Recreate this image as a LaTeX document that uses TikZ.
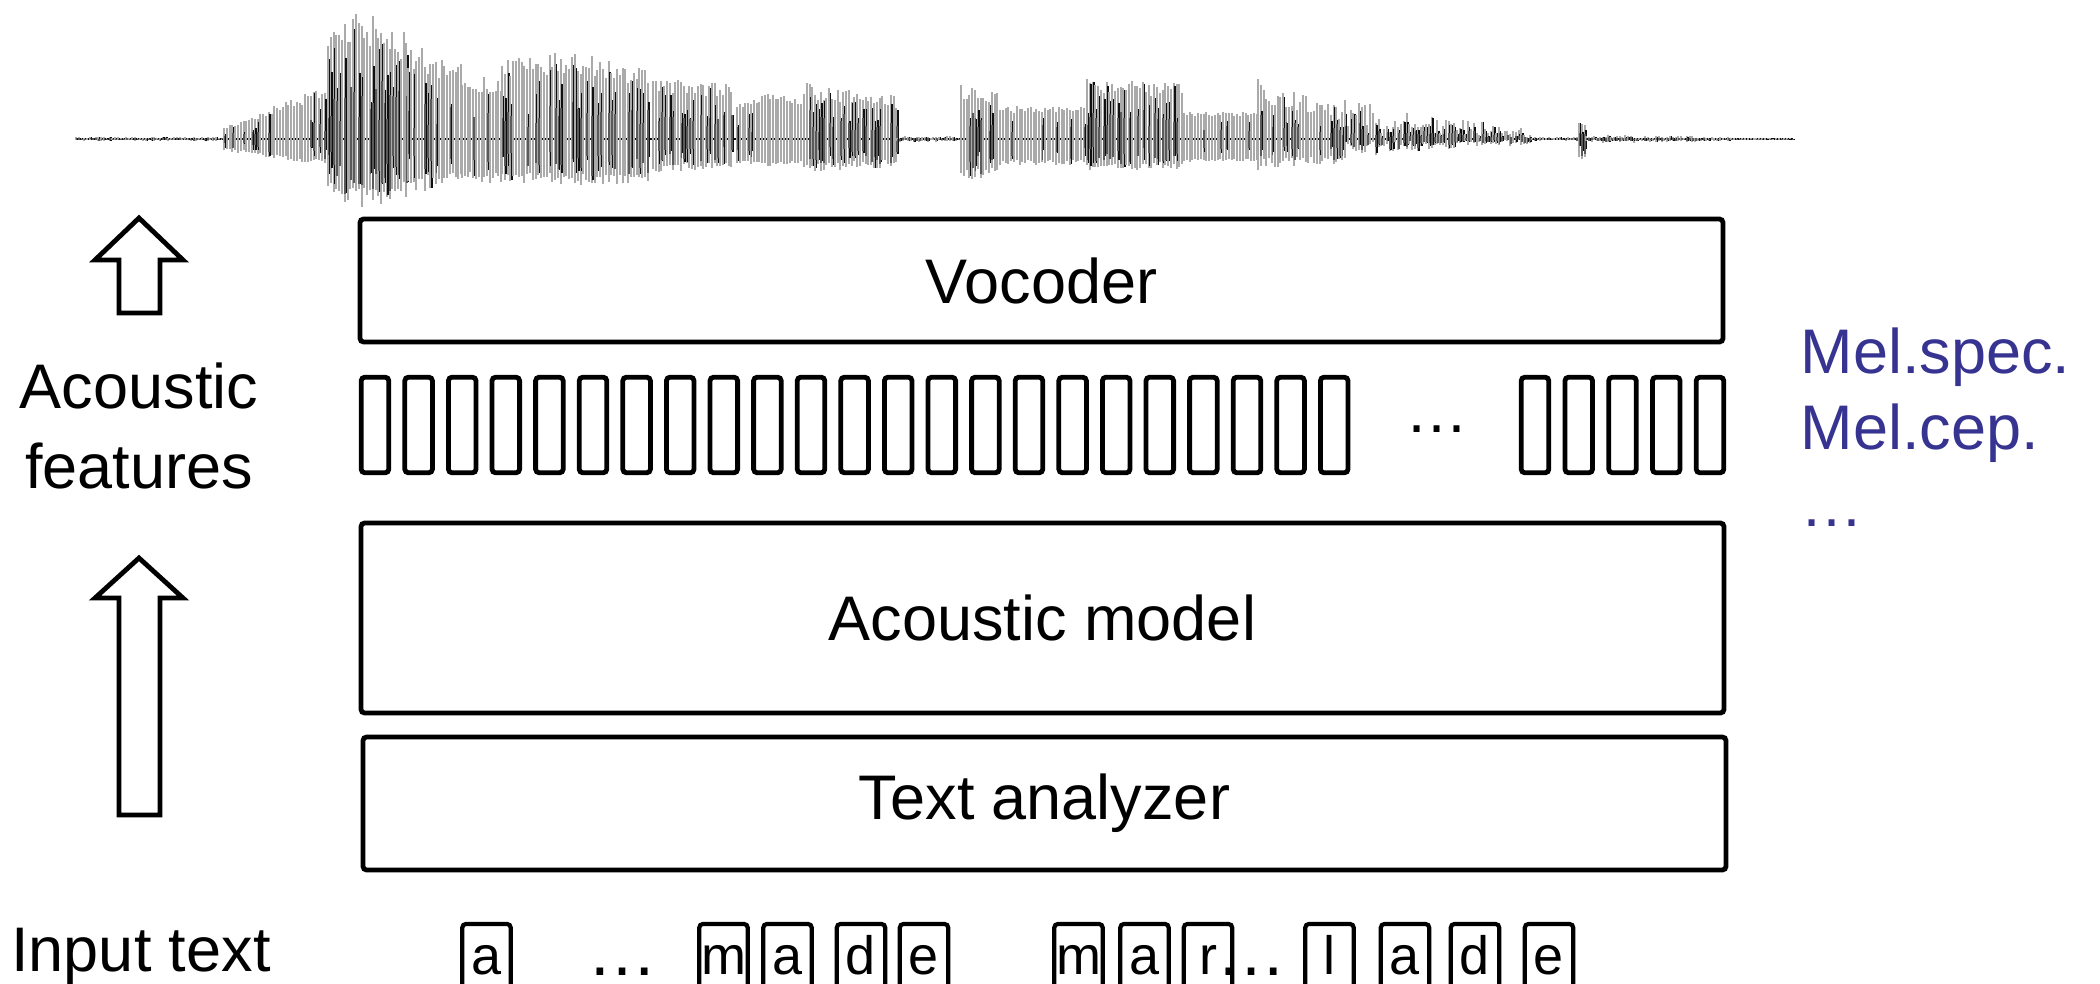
\documentclass[tikz,border=0pt]{standalone}
\usepackage{fontspec}
\setmainfont{Liberation Sans}
\definecolor{melblue}{RGB}{55,52,145}
\definecolor{wavegrey}{RGB}{170,170,170}
\definecolor{wavemid}{RGB}{90,90,90}
\definecolor{wavedark}{RGB}{15,15,15}

\begin{document}
\begin{tikzpicture}[x=0.25pt,y=-0.25pt,
  outline/.style={draw=black, line width=1.2pt, rounded corners=0.9pt},
  block/.style={outline, minimum width=340.75pt, inner sep=0pt,
    font=\fontsize{15.75pt}{19pt}\selectfont},
  featframe/.style={outline, minimum width=6.9pt, minimum height=23.9pt, inner sep=0pt},
  charbox/.style={outline, line width=1.05pt, minimum width=12.1pt, inner sep=0pt, anchor=base,
    text height=12.5pt, text depth=7.5pt, font=\fontsize{13.5pt}{15pt}\selectfont},
  label/.style={inner sep=0pt, font=\fontsize{15.75pt}{19pt}\selectfont},
  blockarrow/.style={draw=black, line width=1.2pt, line join=miter, fill=white},
  waveline/.style={draw=wavegrey, line width=0.5pt},
  wavemd/.style={draw=wavemid, line width=0.42pt},
  wavedk/.style={draw=wavedark, line width=0.38pt}
]
\useasboundingbox (0,0) rectangle (2100,984);

% ---------------- speech waveform ----------------
\pgfmathsetseed{7}
\draw[wavedark, line width=0.35pt] (76,139) -- (1793,139);
\foreach \xa/\xb/\ta/\tb/\ba/\bb/\dk/\lo in {
  76/224/2/2/2/2/0.9/0.3,
  224/328/12/56/12/28/0.25/0.75,
  328/370/125/135/60/71/0.7/0.7,
  370/408/130/105/71/60/0.7/0.7,
  408/462/100/75/55/45/0.6/0.7,
  462/502/62/62/44/44/0.4/0.75,
  502/575/80/88/44/46/0.55/0.75,
  575/650/88/70/46/44/0.6/0.75,
  653/733/62/55/34/30/0.55/0.75,
  737/770/36/46/24/28/0.08/0.85,
  770/804/46/38/28/24/0.08/0.85,
  804/897/57/44/34/28/0.6/0.7,
  897/961/3/3/3/3/0.8/0.3,
  961/1000/57/50/43/40/0.6/0.7,
  1000/1087/33/33/26/26/0.12/0.8,
  1087/1184/61/56/33/30/0.7/0.75,
  1184/1258/27/27/23/23/0.08/0.85,
  1258/1345/62/30/31/25/0.5/0.6,
  1345/1532/40/10/18/6/0.8/0.15,
  1532/1579/2/2/2/2/0.8/0.3,
  1579/1586/17/17/21/21/1/0.8,
  1586/1706/4/3/4/3/1/0.3,
  1706/1793/2/1/2/1/0.6/0.3}{
  \pgfmathsetmacro\xs{\xa+2.8}
  \foreach \x in {\xa,\xs,...,\xb}{
    \pgfmathsetmacro\fr{(\x-\xa)/(\xb-\xa)}
    \pgfmathsetmacro\tv{(\ta+(\tb-\ta)*\fr)*(\lo+(1-\lo)*rnd)}
    \pgfmathsetmacro\bv{(\ba+(\bb-\ba)*\fr)*(\lo+(1-\lo)*rnd)}
    \draw[waveline] (\x,139-\tv) -- (\x,139+\bv);
    \pgfmathtruncatemacro\isdark{rnd<\dk}
    \ifnum\isdark=1
      \pgfmathsetmacro\tw{\tv*(0.35+0.65*rnd)}
      \pgfmathsetmacro\bw{\bv*(0.4+0.6*rnd)}
      \draw[wavedk] (\x+1.4,139-\tw) -- (\x+1.4,139+\bw);
      \pgfmathsetmacro\tm{\tv*(0.15+0.4*rnd)}
      \pgfmathsetmacro\bm{\bv*(0.3+0.6*rnd)}
      \draw[wavemd] (\x+0.5,139-\tm) -- (\x+0.5,139+\bm);
    \fi
  }
}

% ---------------- processing blocks ----------------
\node[block, minimum height=30.75pt] (voc) at (1041.5,280.5) {Vocoder};
\node[block, minimum height=47.5pt] (am) at (1042.5,618) {Acoustic model};
\node[block, minimum height=33.25pt] (ta) at (1044.5,803.5) {Text analyzer};

% ---------------- acoustic feature frames ----------------
\foreach \i in {0,...,22}
  \node[featframe] (f\i) at ({375+43.6*\i},425) {};
\node[label, anchor=base] (fdots) at (1437,432) {…};
\foreach \j in {0,...,4}
  \node[featframe] (g\j) at ({1535+43.75*\j},425) {};

% ---------------- side labels ----------------
\node[label, align=center, font=\fontsize{15.75pt}{20pt}\selectfont]
  (aflabel) at (139,426) {Acoustic\\features};
\node[label, anchor=base] (inlabel) at (141,971) {Input text};
\node[label, anchor=north west, align=left, text=melblue,
  font=\fontsize{15.75pt}{19.1pt}\selectfont]
  (mel) at (1800,327) {Mel.spec.\\Mel.cep.\\…};

% ---------------- block arrows ----------------
\draw[blockarrow] (139,218) -- (183,260) -- (160,260) -- (160,313)
  -- (119,313) -- (119,260) -- (95,260) -- cycle;
\draw[blockarrow] (139,558) -- (183,598) -- (160,598) -- (160,815)
  -- (119,815) -- (119,598) -- (95,598) -- cycle;

% ---------------- input characters ----------------
\node[label, anchor=base, font=\fontsize{17.5pt}{20pt}\selectfont] (d1) at (622,975) {…};
\node[label, anchor=base, font=\fontsize{17.5pt}{20pt}\selectfont] (d2) at (1251,975) {…};
\node[charbox] (c1) at (486.5,974) {a};
\node[charbox] (c2) at (723.5,974) {m};
\node[charbox] (c3) at (787.5,974) {a};
\node[charbox] (c4) at (861,974) {d};
\node[charbox] (c5) at (924,974) {e};
\node[charbox] (c6) at (1078.5,974) {m};
\node[charbox] (c7) at (1144.5,974) {a};
\node[charbox] (c8) at (1208,974) {r};
\node[charbox] (c9) at (1329.5,974) {l};
\node[charbox] (c10) at (1405,974) {a};
\node[charbox] (c11) at (1475,974) {d};
\node[charbox] (c12) at (1549,974) {e};
\end{tikzpicture}
\end{document}
